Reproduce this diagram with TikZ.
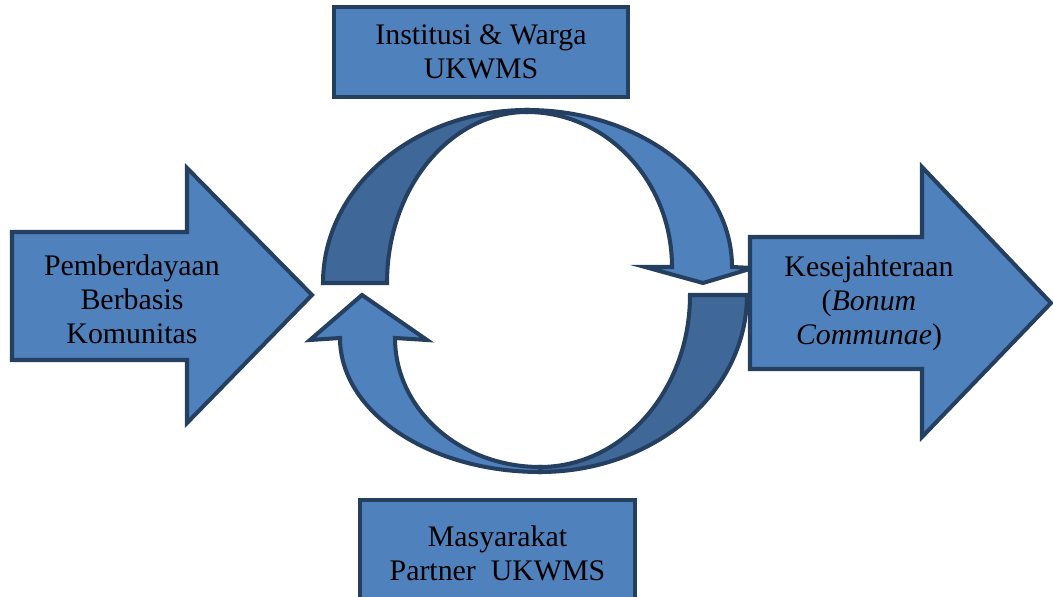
\documentclass[tikz,border=0pt]{standalone}
\usepackage{fontspec}
\setmainfont{Liberation Serif}

\definecolor{boxblue}{RGB}{79,129,189}
\definecolor{shadeblue}{RGB}{63,103,151}
\definecolor{edgeblue}{RGB}{36,63,96}

\tikzset{
  edge line/.style={draw=edgeblue, line width=2.3pt},
  front part/.style={edge line, fill=boxblue},
  back part/.style={edge line, fill=shadeblue},
  label text/.style={align=center, font=\fontsize{17}{19.3}\selectfont, inner sep=0pt},
  blockbox/.style={front part, label text, inner sep=2pt, line width=2.6pt}
}

\begin{document}
\begin{tikzpicture}[x=0.02cm, y=0.02cm]
    % keep the page at the size of the reference
    \clip (0,0) rectangle (1053,597);

    \coordinate (C) at (535,308);

    % big arrow on the left
    \draw [front part] (12,365) -- (187,365) -- (187,429) -- (312,302)
        -- (187,174) -- (187,237) -- (12,237) -- cycle;

    % top curved arrow
    \begin{scope}[shift={(C)}]
        \draw [back part] (-212,6) arc[start angle=180, end angle=90, x radius=204, y radius=173]
            -- (-8,177) arc[start angle=90, end angle=180, x radius=140, y radius=171] -- cycle;
        \draw [front part] (-8,179) arc[start angle=90, end angle=0, x radius=205, y radius=157]
            -- (218,21) -- (168,6) -- (110,22) -- (137,22)
            arc[start angle=0, end angle=90, x radius=145, y radius=155] -- cycle;
    \end{scope}

    % bottom curved arrow
    \begin{scope}[shift={(C)}]
        \draw [back part] (212,-6) arc[start angle=0, end angle=-90, x radius=207, y radius=177]
            -- (5,-178) arc[start angle=-90, end angle=0, x radius=150, y radius=172] -- cycle;
        \draw [front part] (5,-183) arc[start angle=270, end angle=180, x radius=200, y radius=134]
            -- (-225,-51) -- (-173,-6) -- (-108,-51) -- (-140,-49)
            arc[start angle=180, end angle=270, x radius=145, y radius=129] -- cycle;
    \end{scope}

    % big arrow on the right
    \draw [front part] (750,360) -- (922,360) -- (922,430) -- (1051,294)
        -- (922,160) -- (922,228) -- (750,228) -- cycle;

    % the two boxes
    \node [blockbox, minimum width=5.88cm, minimum height=1.8cm] (institusi) at (481,545)
        {Institusi \& Warga\\UKWMS};
    \node [blockbox, minimum width=5.5cm, minimum height=2.12cm] (masyarakat) at (497.5,44)
        {Masyarakat\\Partner\ \ UKWMS};

    % texts in the big arrows
    \node [label text] (pemberdayaan) at (132,297.5) {Pemberdayaan\\Berbasis\\Komunitas};
    \node [label text] (kesejahteraan) at (869,294) {Kesejahteraan\\(\textit{Bonum}\\\textit{Communae})};
\end{tikzpicture}
\end{document}
